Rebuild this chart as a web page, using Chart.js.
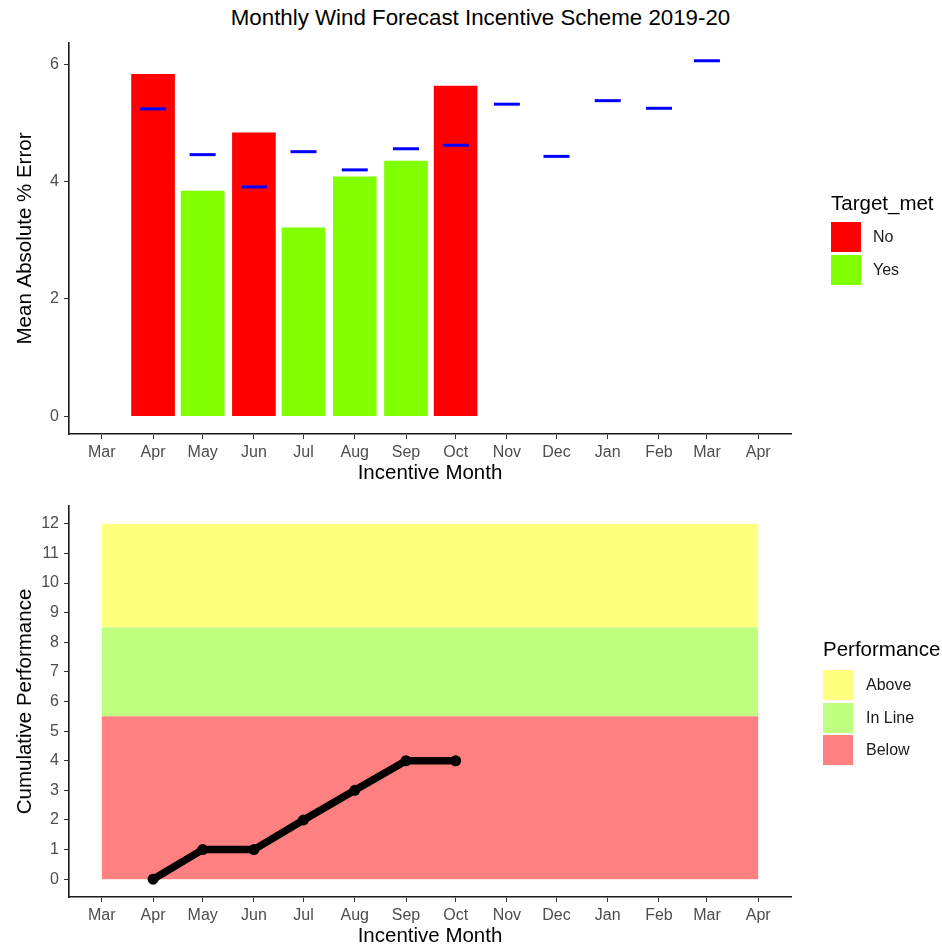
<!DOCTYPE html>
<html>
<head>
<meta charset="utf-8">
<script src="https://cdn.jsdelivr.net/npm/chart.js@4.4.1/dist/chart.umd.min.js"></script>
<style>
  body { margin: 0; background: #fff; overflow: hidden; font-family: "Liberation Sans", Arial, sans-serif; }
  #wrap { position: relative; width: 942px; height: 947px; }
  #title { position: absolute; left: 19px; width: 923px; top: 0; line-height: 36px; font-size: 22.3px; text-align: center; color: #000; }
  canvas { position: absolute; left: 0; }
  #topChart { top: 0; }
  #bottomChart { top: 491px; }
  .lg { position: absolute; white-space: nowrap; }
  .lg-title { font-size: 20.5px; line-height: 30px; color: #000; }
  .lg-box { width: 30px; height: 30px; }
  .lg-label { font-size: 16px; line-height: 30px; color: #1a1a1a; }
</style>
</head>
<body>
<div id="wrap">
  <div id="title">Monthly Wind Forecast Incentive Scheme 2019-20</div>
  <canvas id="topChart" width="942" height="491"></canvas>
  <canvas id="bottomChart" width="942" height="456"></canvas>
</div>
<script>
// axis months (first of each month)
const tickMonths = ['2019-03', '2019-04', '2019-05', '2019-06', '2019-07', '2019-08', '2019-09',
                    '2019-10', '2019-11', '2019-12', '2020-01', '2020-02', '2020-03', '2020-04'];
const monthNames = ['Jan', 'Feb', 'Mar', 'Apr', 'May', 'Jun', 'Jul', 'Aug', 'Sep', 'Oct', 'Nov', 'Dec'];

// top chart: monthly error vs target
const errorMonths = ['2019-04', '2019-05', '2019-06', '2019-07', '2019-08', '2019-09', '2019-10'];
const errorValues = [5.83, 3.84, 4.83, 3.21, 4.08, 4.35, 5.63];
const targetMet = ['No', 'Yes', 'No', 'Yes', 'Yes', 'Yes', 'No'];
const targetMonths = ['2019-04', '2019-05', '2019-06', '2019-07', '2019-08', '2019-09',
                      '2019-10', '2019-11', '2019-12', '2020-01', '2020-02', '2020-03'];
const targetValues = [5.24, 4.46, 3.91, 4.51, 4.20, 4.56, 4.62, 5.32, 4.43, 5.38, 5.25, 6.06];
const metLevels = ['No', 'Yes'];
const metColors = ['#FF0000', '#7FFF00'];
const errorTicks = [0, 2, 4, 6];

// bottom chart: cumulative performance
const perfMonths = ['2019-04', '2019-05', '2019-06', '2019-07', '2019-08', '2019-09', '2019-10'];
const perfValues = [0, 1, 1, 2, 3, 4, 4];
const bandNames = ['Above', 'In Line', 'Below'];
const bandLow = [8.5, 5.5, 0];
const bandHigh = [12, 8.5, 5.5];
const bandColors = ['#FFFF80', '#BFFF80', '#FF8080'];
const perfTicks = [0, 1, 2, 3, 4, 5, 6, 7, 8, 9, 10, 11, 12];

// days since the first axis month
const day = m => (Date.UTC(+m.slice(0, 4), +m.slice(5, 7) - 1, 1) - Date.UTC(2019, 2, 1)) / 864e5;
const monthLabel = v => {
  const m = tickMonths.find(t => day(t) === v);
  return m ? monthNames[+m.slice(5, 7) - 1] : '';
};

const xFirst = day(tickMonths[0]);
const xLast = day(tickMonths[tickMonths.length - 1]);
const xPad = (xLast - xFirst) * 0.05;

Chart.defaults.font.family = '"Liberation Sans", Arial, sans-serif';
Chart.defaults.animation = false;

const tickFont = { size: 16 };
const titleFont = { size: 20.5, lineHeight: 1 };

function xAxis(height, titlePad) {
  return {
    type: 'linear',
    offset: false,
    min: xFirst - xPad,
    max: xLast + xPad,
    afterBuildTicks: s => { s.ticks = tickMonths.map(m => ({ value: day(m) })); },
    afterFit: s => { s.height = height; },
    ticks: { color: '#4d4d4d', font: tickFont, padding: 4, maxRotation: 0, autoSkip: false, callback: v => monthLabel(v) },
    grid: { display: true, offset: false, drawOnChartArea: false, drawTicks: true, tickLength: 5, tickColor: '#333', tickWidth: 1 },
    border: { display: true, color: '#1a1a1a', width: 1.6 },
    title: { display: true, text: 'Incentive Month', color: '#000', font: titleFont, padding: { top: 0, bottom: titlePad } }
  };
}

function yAxis(min, max, tickValues, label) {
  return {
    type: 'linear',
    min: min,
    max: max,
    afterBuildTicks: s => { s.ticks = tickValues.map(v => ({ value: v })); },
    afterFit: s => { s.width = 69; },
    ticks: { color: '#4d4d4d', font: tickFont, padding: 5 },
    grid: { display: true, drawOnChartArea: false, drawTicks: true, tickLength: 5, tickColor: '#333', tickWidth: 1 },
    border: { display: true, color: '#1a1a1a', width: 1.6 },
    title: { display: true, text: label, color: '#000', font: titleFont, padding: { top: 15, bottom: 0 } }
  };
}

// top chart
new Chart(document.getElementById('topChart'), {
  type: 'bar',
  data: {
    datasets: [
      {
        type: 'line',
        label: 'Target',
        order: 0,
        data: targetMonths.map((m, i) => ({ x: day(m), y: targetValues[i] })),
        showLine: false,
        pointStyle: 'line',
        pointRadius: 13,
        pointBorderWidth: 3,
        pointBorderColor: '#0000FF',
        pointBackgroundColor: '#0000FF'
      },
      {
        label: 'Mean Absolute % Error',
        order: 1,
        data: errorMonths.map((m, i) => ({ x: day(m), y: errorValues[i] })),
        backgroundColor: targetMet.map(t => metColors[metLevels.indexOf(t)]),
        borderWidth: 0,
        barThickness: 43
      }
    ]
  },
  options: {
    responsive: false,
    layout: { padding: { top: 43, right: 151, left: 0, bottom: 0 } },
    plugins: { legend: { display: false }, tooltip: { enabled: false } },
    scales: {
      x: xAxis(57, 7),
      y: yAxis(-0.303, 6.363, errorTicks, 'Mean Absolute % Error')
    }
  }
});

// background bands for the bottom chart
const bandPlugin = {
  id: 'bands',
  beforeDatasetsDraw(chart) {
    const { ctx, scales: { x, y } } = chart;
    const x0 = x.getPixelForValue(xFirst);
    const x1 = x.getPixelForValue(xLast);
    ctx.save();
    bandNames.forEach((n, i) => {
      const yTop = y.getPixelForValue(bandHigh[i]);
      const yBot = y.getPixelForValue(bandLow[i]);
      ctx.fillStyle = bandColors[i];
      ctx.fillRect(x0, yTop, x1 - x0, yBot - yTop);
    });
    ctx.restore();
  }
};

new Chart(document.getElementById('bottomChart'), {
  type: 'line',
  data: {
    datasets: [{
      label: 'Cumulative Performance',
      data: perfMonths.map((m, i) => ({ x: day(m), y: perfValues[i] })),
      borderColor: '#000',
      borderWidth: 7.5,
      borderJoinStyle: 'round',
      pointRadius: 5.5,
      pointBackgroundColor: '#000',
      pointBorderWidth: 0,
      tension: 0
    }]
  },
  options: {
    responsive: false,
    layout: { padding: { top: 15, right: 151, left: 0, bottom: 0 } },
    plugins: { legend: { display: false }, tooltip: { enabled: false } },
    scales: {
      x: xAxis(50, 0),
      y: yAxis(-0.6, 12.6, perfTicks, 'Cumulative Performance')
    }
  },
  plugins: [bandPlugin]
});

// legends
const wrap = document.getElementById('wrap');
function addEl(cls, left, top, text, color) {
  const d = document.createElement('div');
  d.className = 'lg ' + cls;
  d.style.left = left + 'px';
  d.style.top = top + 'px';
  if (text) d.textContent = text;
  if (color) d.style.background = color;
  wrap.appendChild(d);
}
function legend(title, names, colors, left, titleTop, boxTop, labelLeft) {
  addEl('lg-title', left, titleTop, title);
  names.forEach((n, i) => {
    const top = boxTop + i * 32.6;
    addEl('lg-box', left, top, '', colors[i]);
    addEl('lg-label', labelLeft, top, n);
  });
}
legend('Target_met', metLevels, metColors, 831, 188, 222, 873);
legend('Performance', bandNames, bandColors, 823, 634, 670, 866);
</script>
</body>
</html>
